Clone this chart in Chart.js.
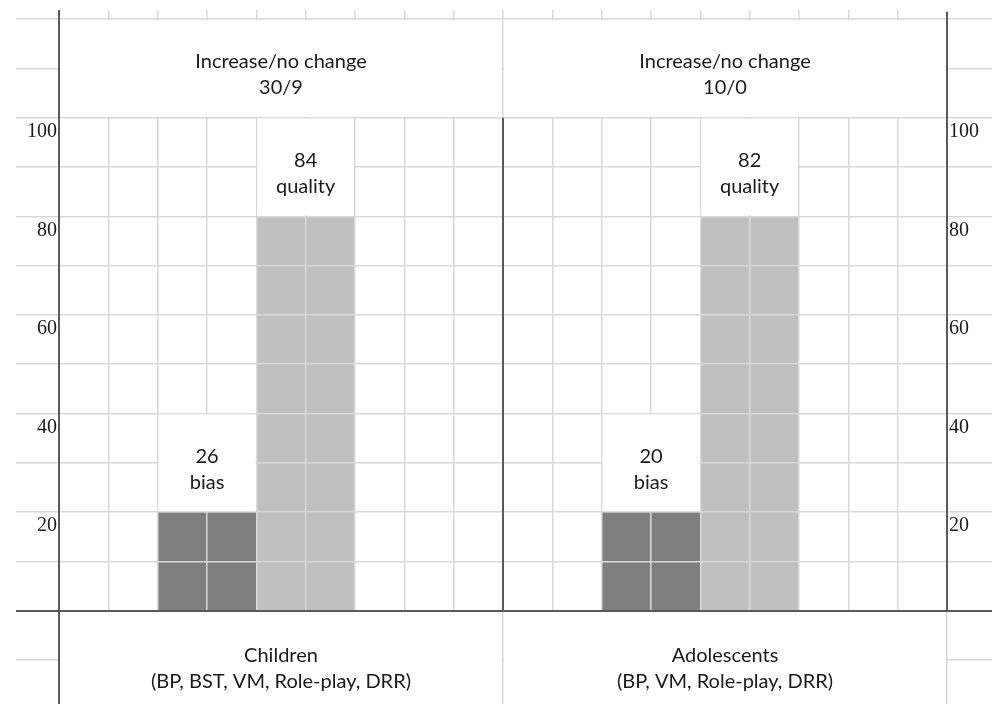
<!DOCTYPE html>
<html>
<head>
<meta charset="utf-8">
<script src="https://cdn.jsdelivr.net/npm/chart.js@4.4.1/dist/chart.umd.min.js"></script>
<style>
  html, body { margin: 0; padding: 0; background: #fff; overflow: hidden; }
  #wrap { width: 992px; height: 704px; }
</style>
</head>
<body>
<div id="wrap"><canvas id="chart"></canvas></div>
<script>
// values
var panels = ["Children", "Adolescents"];
var panelMethods = ["(BP, BST, VM, Role-play, DRR)", "(BP, VM, Role-play, DRR)"];
var changeCounts = ["30/9", "10/0"];
var seriesNames = ["bias", "quality"];
var biasBars = [20, 20];
var qualityBars = [80, 80];
var biasLabels = [26, 20];
var qualityLabels = [84, 82];
var yTicks = [20, 40, 60, 80, 100];

var colsPerPanel = 9;
var gridColor = "#d9d9d9";
var axisColor = "#595959";
var textColor = "#1a1a1a";
var textFont = "20px Lato";

Chart.defaults.font.family = "Lato";
Chart.defaults.font.size = 18;
Chart.defaults.color = textColor;

function whiteCell(ctx, x1, y1, x2, y2) {
  ctx.fillStyle = "#fff";
  ctx.fillRect(x1 + 1, y1 + 1, x2 - x1 - 2, y2 - y1 - 2);
}

function twoLines(ctx, x, mid, a, b) {
  ctx.fillStyle = textColor;
  ctx.fillText(a, x, mid - 7);
  ctx.fillText(b, x, mid + 19);
}

function line(ctx, x1, y1, x2, y2) {
  ctx.beginPath();
  ctx.moveTo(x1, y1);
  ctx.lineTo(x2, y2);
  ctx.stroke();
}

// merged cells (header, footer, bar labels) and the dark axis lines
var cellPlugin = {
  id: "cells",
  afterDraw: function (chart) {
    var ctx = chart.ctx;
    var xg = chart.scales.xg;
    var y = chart.scales.y;
    var y2 = chart.scales.y2;
    var area = chart.chartArea;
    var labels = [biasLabels, qualityLabels];

    ctx.save();
    ctx.font = textFont;
    ctx.textAlign = "center";
    ctx.textBaseline = "middle";

    panels.forEach(function (name, i) {
      var left = xg.getPixelForValue(i * colsPerPanel);
      var right = xg.getPixelForValue((i + 1) * colsPerPanel);
      var cx = (left + right) / 2;
      whiteCell(ctx, left, y.getPixelForValue(y.max), right, y.getPixelForValue(100));
      whiteCell(ctx, left, y.getPixelForValue(0), right, area.bottom + 2);
      twoLines(ctx, cx, y.getPixelForValue(110), "Increase/no change", changeCounts[i]);
      twoLines(ctx, cx, y.getPixelForValue(-10) + 2, name, panelMethods[i]);
    });

    chart.data.datasets.forEach(function (ds, d) {
      var meta = chart.getDatasetMeta(d);
      meta.data.forEach(function (bar, i) {
        var l = bar.x - bar.width / 2;
        var r = bar.x + bar.width / 2;
        whiteCell(ctx, l, y.getPixelForValue(ds.data[i] + 20), r, bar.y);
        twoLines(ctx, bar.x, y.getPixelForValue(ds.data[i] + 10) + 1, String(labels[d][i]), seriesNames[d]);
      });
    });

    ctx.strokeStyle = axisColor;
    ctx.lineWidth = 2;
    var xL = Math.round(xg.getPixelForValue(0));
    var xM = Math.round(xg.getPixelForValue(colsPerPanel));
    var xR = Math.round(xg.getPixelForValue(2 * colsPerPanel));
    var y0 = Math.round(y.getPixelForValue(0));
    line(ctx, xL, xg.top, xL, area.bottom);
    line(ctx, xM, y.getPixelForValue(100), xM, y0);
    line(ctx, xR, xg.top + 2, xR, y0);
    line(ctx, y.right - 43, y0, y2.right, y0);
    ctx.restore();
  }
};

var tickFont = { family: "Liberation Serif", size: 20 };

new Chart(document.getElementById("chart"), {
  type: "bar",
  data: {
    labels: panels,
    datasets: [
      { label: seriesNames[0], data: biasBars, backgroundColor: "#7f7f7f", xAxisID: "x", yAxisID: "y" },
      { label: seriesNames[1], data: qualityBars, backgroundColor: "#bfbfbf", xAxisID: "x", yAxisID: "y" }
    ]
  },
  options: {
    responsive: true,
    maintainAspectRatio: false,
    animation: false,
    layout: { padding: { top: 10, left: 0, right: 0, bottom: 0 } },
    datasets: { bar: { categoryPercentage: 4 / 9, barPercentage: 1 } },
    plugins: { legend: { display: false }, tooltip: { enabled: false } },
    scales: {
      x: {
        type: "category",
        display: false,
        // bars sit half a grid column left of the panel centre
        afterDataLimits: function (s) { s.min = 0.5 / colsPerPanel; }
      },
      xg: {
        type: "linear",
        position: "top",
        min: 0,
        max: 2 * colsPerPanel,
        offset: false,
        border: { display: false },
        grid: { offset: false, color: gridColor, lineWidth: 1.5, z: 1, drawTicks: true, tickLength: 9 },
        ticks: { display: false, stepSize: 1, maxTicksLimit: 100 }
      },
      y: {
        position: "left",
        min: -18.9,
        max: 120,
        afterFit: function (s) { s.width = 59; },
        border: { display: false },
        grid: { color: gridColor, lineWidth: 1.5, z: 1, drawTicks: true, tickLength: 43 },
        ticks: {
          stepSize: 10, includeBounds: false, autoSkip: false, maxTicksLimit: 100,
          padding: -41, labelOffset: 14, font: tickFont, color: textColor,
          callback: function (v) { return yTicks.indexOf(v) >= 0 ? String(v) : ""; }
        }
      },
      y2: {
        position: "right",
        min: -18.9,
        max: 120,
        afterFit: function (s) { s.width = 45; },
        border: { display: false },
        grid: { color: gridColor, lineWidth: 1.5, z: 1, drawOnChartArea: false, drawTicks: true, tickLength: 45 },
        ticks: {
          stepSize: 10, includeBounds: false, autoSkip: false, maxTicksLimit: 100,
          padding: -43, labelOffset: 14, font: tickFont, color: textColor,
          callback: function (v) { return yTicks.indexOf(v) >= 0 ? String(v) : ""; }
        }
      }
    }
  },
  plugins: [cellPlugin]
});
</script>
</body>
</html>
